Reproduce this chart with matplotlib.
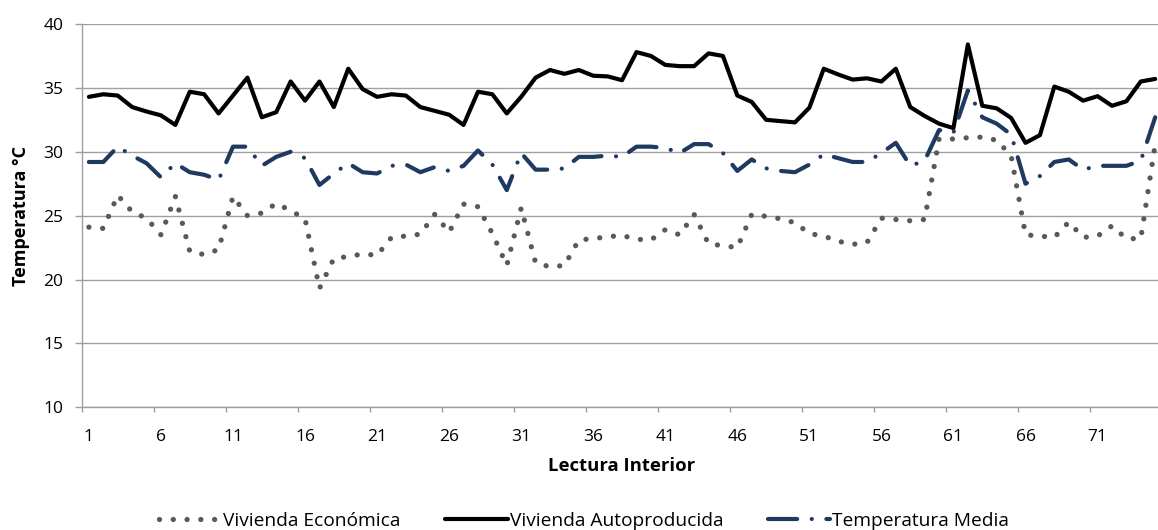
import numpy as np
import matplotlib
matplotlib.use("Agg")
import matplotlib.pyplot as plt
from matplotlib.lines import Line2D

# ---- data -------------------------------------------------------------
lecturas = list(range(1, 76))

vivienda_economica = [
    24.1, 24.0, 26.6, 25.3, 24.8, 23.5, 26.5, 22.2, 21.95, 22.35,
    26.5, 25.0, 25.2, 25.95, 25.4, 24.75, 19.3, 21.65, 21.8, 22.0,
    21.9, 23.3, 23.4, 23.55, 25.1, 23.7, 25.9, 25.7, 23.6, 21.1,
    25.6, 21.3, 21.0, 21.1, 23.1, 23.2, 23.35, 23.45, 23.15, 23.1,
    23.9, 23.5, 25.1, 22.8, 22.65, 22.5, 25.1, 24.95, 24.75, 24.45,
    23.6, 23.4, 23.0, 22.75, 22.9, 24.8, 24.7, 24.6, 24.7, 31.0,
    31.0, 31.1, 31.15, 30.9, 29.7, 23.5, 23.4, 23.3, 24.5, 23.3,
    23.4, 24.2, 23.2, 23.2, 30.6,
]

vivienda_autoproducida = [
    34.3, 34.5, 34.4, 33.5, 33.15, 32.85, 32.1, 34.7, 34.5, 33.0,
    34.4, 35.8, 32.7, 33.1, 35.5, 34.0, 35.5, 33.5, 36.5, 34.9,
    34.3, 34.5, 34.4, 33.5, 33.2, 32.9, 32.1, 34.7, 34.5, 33.0,
    34.3, 35.8, 36.4, 36.1, 36.4, 35.95, 35.9, 35.6, 37.8, 37.5,
    36.8, 36.7, 36.7, 37.7, 37.5, 34.4, 33.9, 32.5, 32.4, 32.3,
    33.45, 36.5, 36.05, 35.65, 35.75, 35.5, 36.5, 33.5, 32.8, 32.2,
    31.85, 38.4, 33.6, 33.4, 32.65, 30.7, 31.3, 35.1, 34.7, 34.0,
    34.35, 33.6, 33.95, 35.5, 35.7,
]

temperatura_media = [
    29.2, 29.2, 30.4, 29.7, 29.1, 28.0, 29.1, 28.4, 28.2, 27.8,
    30.4, 30.4, 28.9, 29.6, 30.0, 29.5, 27.4, 28.3, 29.1, 28.4,
    28.3, 28.9, 29.0, 28.4, 28.8, 28.5, 28.9, 30.1, 29.0, 27.0,
    29.9, 28.6, 28.6, 28.7, 29.6, 29.6, 29.7, 29.6, 30.4, 30.4,
    30.3, 29.9, 30.6, 30.6, 29.9, 28.5, 29.4, 28.7, 28.5, 28.4,
    29.0, 29.8, 29.5, 29.2, 29.2, 29.9, 30.7, 28.9, 29.3, 31.7,
    31.5, 34.8, 32.7, 32.2, 31.35, 27.5, 28.1, 29.2, 29.4, 28.6,
    28.9, 28.9, 28.9, 29.3, 32.7,
]

series_labels = ["Vivienda Económica", "Vivienda Autoproducida", "Temperatura Media"]
x_tick_labels = [str(v) for v in range(1, 72, 5)]
y_ticks = [10, 15, 20, 25, 30, 35, 40]

# ---- style ------------------------------------------------------------
W, H = 1158, 530
FONT = "Open Sans"
plt.rcParams["font.family"] = [FONT, "DejaVu Sans"]
GRID = "#A0A0A0"
C_ECO = "#595959"
C_AUTO = "#000000"
C_MED = "#1F3A60"

fig = plt.figure(figsize=(W / 100, H / 100), dpi=100)
ax_left, ax_right, ax_top, ax_bot = 81.7, 1162.4, 24.0, 407.3
ax = fig.add_axes([ax_left / W, 1 - ax_bot / H,
                   (ax_right - ax_left) / W, (ax_bot - ax_top) / H])

x = np.array(lecturas)
eco_style = dict(color=C_ECO, lw=3.8, linestyle=(0, (0.01, 2.6)),
                 dash_capstyle="round", solid_capstyle="round")
auto_style = dict(color=C_AUTO, lw=3.0, solid_joinstyle="round",
                  solid_capstyle="round")
med_style = dict(color=C_MED, lw=3.0, linestyle=(0, (7, 3.5, 0.01, 3.5)),
                 dash_capstyle="round", dash_joinstyle="round")

ax.plot(x, vivienda_economica, **eco_style)
ax.plot(x, vivienda_autoproducida, **auto_style)
ax.plot(x, temperatura_media, **med_style)

ax.set_xlim(0.5, len(lecturas) + 0.5)
ax.set_ylim(10, 40)
ax.set_yticks(y_ticks)
ax.set_yticklabels([str(v) for v in y_ticks])
ax.yaxis.grid(True, color=GRID, lw=1.0)
ax.set_axisbelow(True)

for s in ["top", "right"]:
    ax.spines[s].set_visible(False)
for s in ["left", "bottom"]:
    ax.spines[s].set_color(GRID)
    ax.spines[s].set_linewidth(1.0)

# category boundaries get tick marks, category centres get labels
ax.set_xticks(np.arange(0.5, len(lecturas) + 0.6, 5))
ax.set_xticklabels([])
ax.set_xticks([int(v) for v in x_tick_labels], minor=True)
ax.set_xticklabels(x_tick_labels, minor=True)
ax.tick_params(axis="x", which="major", length=3.6, width=1.0, color=GRID)
ax.tick_params(axis="x", which="minor", length=0, pad=15.5, labelsize=12.5)
ax.tick_params(axis="y", length=4.8, width=1.0, color=GRID, pad=8.5, labelsize=12.5)

ax.set_xlabel("Lectura Interior", fontsize=13.3, fontweight="bold", va="center")
ax.xaxis.set_label_coords(0.5, (ax_bot - 466) / (ax_bot - ax_top))
ax.set_ylabel("Temperatura °C", fontsize=13, fontweight="bold", va="center")
ax.yaxis.set_label_coords((20.5 - ax_left) / (ax_right - ax_left), 0.5)

handles = [Line2D([], [], **eco_style), Line2D([], [], **auto_style),
           Line2D([], [], **med_style)]
fig.legend(handles, series_labels, loc="center",
           bbox_to_anchor=(584 / W, 1 - 521 / H), ncol=3, frameon=False,
           fontsize=13.8, handlelength=3.25, handletextpad=0.1,
           columnspacing=2.35, borderpad=0, borderaxespad=0)

fig.savefig("out.png", dpi=100)
